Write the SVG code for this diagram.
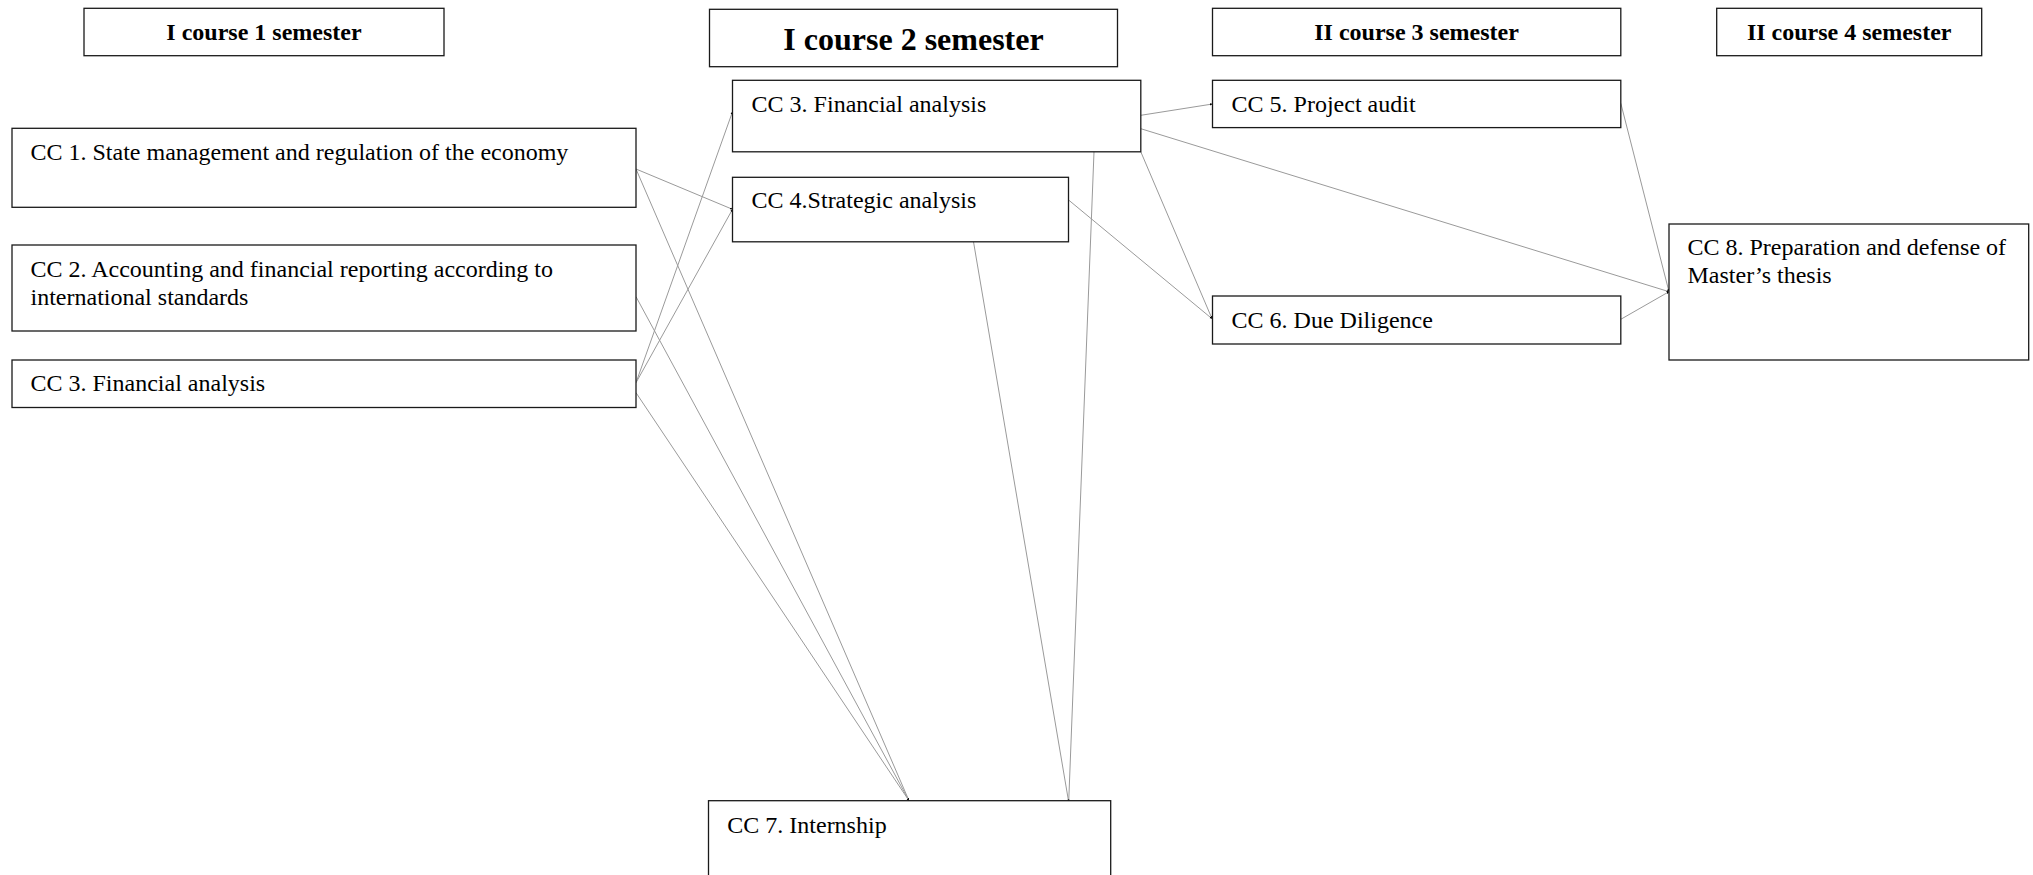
<svg xmlns="http://www.w3.org/2000/svg" width="2033" height="875" viewBox="0 0 2033 875">
<style>
  .box { fill: #ffffff; stroke: #1a1a1a; stroke-width: 1.3; }
  .hd { font-family: "Liberation Serif", "Times New Roman", serif; font-weight: bold; font-size: 24px; fill: #000; text-anchor: middle; }
  .hd2 { font-size: 32px; }
  .tx { font-family: "Liberation Serif", "Times New Roman", serif; font-size: 24px; fill: #000; }
  .cn { stroke: #9a9a9a; stroke-width: 1; fill: none; marker-end: url(#tip); }
</style>
<defs>
  <marker id="tip" markerUnits="userSpaceOnUse" markerWidth="3" markerHeight="3" refX="2.5" refY="1.5" orient="auto">
    <path d="M0,0.4 L2.6,1.5 L0,2.6 z" fill="#000"/>
  </marker>
</defs>
<rect x="0" y="0" width="2033" height="875" fill="#ffffff"/>

<g id="connectors">
  <line class="cn" x1="636" y1="169" x2="732.5" y2="209.3"/>
  <line class="cn" x1="636" y1="169" x2="909" y2="800.7"/>
  <line class="cn" x1="636" y1="296.7" x2="909" y2="800.7"/>
  <line class="cn" x1="636" y1="382.7" x2="732.5" y2="111.7"/>
  <line class="cn" x1="636" y1="382.7" x2="732.5" y2="209.3"/>
  <line class="cn" x1="636" y1="392.7" x2="909" y2="800.7"/>
  <line class="cn" x1="973.5" y1="241.8" x2="1068.7" y2="802"/>
  <line class="cn" x1="1094" y1="151.8" x2="1068.7" y2="802"/>
  <line class="cn" x1="1140.8" y1="115.3" x2="1212.5" y2="104"/>
  <line class="cn" x1="1140.8" y1="128.7" x2="1669" y2="291.7"/>
  <line class="cn" x1="1140.8" y1="151.8" x2="1212" y2="318.7"/>
  <line class="cn" x1="1068.6" y1="200" x2="1212" y2="318.7"/>
  <line class="cn" x1="1620.8" y1="103.3" x2="1669" y2="291.7"/>
  <line class="cn" x1="1620.8" y1="319.3" x2="1669" y2="291.7"/>
</g>

<g id="h1">
  <rect class="box" x="84" y="8.3" width="360" height="47.4"/>
  <text class="hd" x="264" y="40">I course 1 semester</text>
</g>
<g id="h2">
  <rect class="box" x="709.5" y="9.3" width="408" height="57.4"/>
  <text class="hd hd2" x="913.5" y="50">I course 2 semester</text>
</g>
<g id="h3">
  <rect class="box" x="1212.5" y="8.3" width="408.3" height="47.4"/>
  <text class="hd" x="1416.6" y="40">II course 3 semester</text>
</g>
<g id="h4">
  <rect class="box" x="1716.7" y="8.3" width="265" height="47.4"/>
  <text class="hd" x="1849.2" y="40">II course 4 semester</text>
</g>

<g id="cc1">
  <rect class="box" x="12" y="128.3" width="624" height="79"/>
  <text class="tx" x="30.5" y="160">CC 1. State management and regulation of the economy</text>
</g>
<g id="cc2">
  <rect class="box" x="12" y="245" width="624" height="86"/>
  <text class="tx" x="30.5" y="277">CC 2. Accounting and financial reporting according to</text>
  <text class="tx" x="30.5" y="304.5">international standards</text>
</g>
<g id="cc3a">
  <rect class="box" x="12" y="360" width="624" height="47.5"/>
  <text class="tx" x="30.5" y="390.7">CC 3. Financial analysis</text>
</g>
<g id="cc3b">
  <rect class="box" x="732.5" y="80.3" width="408.3" height="71.5"/>
  <text class="tx" x="751.6" y="111.7">CC 3. Financial analysis</text>
</g>
<g id="cc4">
  <rect class="box" x="732.5" y="177.3" width="336" height="64.5"/>
  <text class="tx" x="751.6" y="208.3">CC 4.Strategic analysis</text>
</g>
<g id="cc5">
  <rect class="box" x="1212.5" y="80.3" width="408.3" height="47.3"/>
  <text class="tx" x="1231.6" y="111.7">CC 5. Project audit</text>
</g>
<g id="cc6">
  <rect class="box" x="1212.5" y="296" width="408.3" height="48"/>
  <text class="tx" x="1231.6" y="328.3">CC 6. Due Diligence</text>
</g>
<g id="cc7">
  <rect class="box" x="708.5" y="800.7" width="402.2" height="100"/>
  <text class="tx" x="727.3" y="832.7">CC 7. Internship</text>
</g>
<g id="cc8">
  <rect class="box" x="1669" y="224" width="359.7" height="136"/>
  <text class="tx" x="1687.5" y="255">CC 8. Preparation and defense of</text>
  <text class="tx" x="1687.5" y="283.3">Master’s thesis</text>
</g>
</svg>
